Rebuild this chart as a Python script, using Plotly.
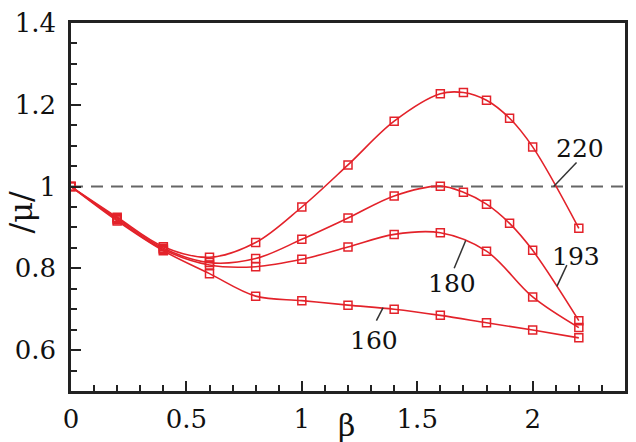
import plotly.graph_objects as go

beta_a = [0, 0.2, 0.4, 0.6, 0.8, 1.0, 1.2, 1.4, 1.6, 1.7, 1.8, 1.9, 2.0, 2.2]
mu_220 = [1.0, 0.925, 0.853, 0.827, 0.863, 0.950, 1.053, 1.160, 1.227, 1.230, 1.211, 1.167, 1.097, 0.898]
mu_193 = [1.0, 0.922, 0.849, 0.814, 0.824, 0.871, 0.923, 0.977, 1.001, 0.986, 0.957, 0.910, 0.844, 0.672]

beta_b = [0, 0.2, 0.4, 0.6, 0.8, 1.0, 1.2, 1.4, 1.6, 1.8, 2.0, 2.2]
mu_180 = [1.0, 0.919, 0.846, 0.808, 0.804, 0.822, 0.852, 0.883, 0.887, 0.842, 0.730, 0.655]
mu_160 = [1.0, 0.916, 0.843, 0.787, 0.732, 0.721, 0.710, 0.700, 0.685, 0.667, 0.649, 0.630]

labels = ["220", "193", "180", "160"]
label_pos = [(2.205, 1.094), (2.186, 0.830), (1.651, 0.762), (1.311, 0.624)]
leader = [((2.091, 1.0), (2.19, 1.059)),
          ((2.105, 0.756), (2.148, 0.808)),
          ((1.710, 0.868), (1.660, 0.800)),
          ((1.352, 0.704), (1.323, 0.672))]

x_ticks = [0, 0.5, 1, 1.5, 2]
x_tick_text = ["0", "0.5", "1", "1.5", "2"]
y_ticks = [0.6, 0.8, 1.0, 1.2, 1.4]
y_tick_text = ["0.6", "0.8", "1", "1.2", "1.4"]

RED = "#e3222a"
FONT = "DejaVu Serif, serif"

fig = go.Figure()

fig.add_shape(type="line", xref="x", yref="y", x0=0, x1=2.4, y0=1.0, y1=1.0,
              line=dict(color="#666666", width=2, dash="12px,8px"), layer="below")

for xs, ys in [(beta_b, mu_160), (beta_b, mu_180), (beta_a, mu_193), (beta_a, mu_220)]:
    fig.add_trace(go.Scatter(
        x=xs, y=ys, mode="lines+markers",
        line=dict(color=RED, width=1.6, shape="spline", smoothing=1.0),
        marker=dict(symbol="square-open", size=8, color=RED, line=dict(width=1.5, color=RED)),
        showlegend=False, hoverinfo="skip"))

for (p0, p1) in leader:
    fig.add_shape(type="line", xref="x", yref="y", x0=p0[0], y0=p0[1], x1=p1[0], y1=p1[1],
                  line=dict(color="#333333", width=1.5))

for t, (lx, ly) in zip(labels, label_pos):
    fig.add_annotation(x=lx, y=ly, xref="x", yref="y", text=t, showarrow=False,
                       font=dict(family=FONT, size=25, color="#111111"),
                       xanchor="center", yanchor="middle")

fig.add_annotation(x=0.497, y=-0.094, xref="paper", yref="paper", text="β", showarrow=False,
                   font=dict(family=FONT, size=30, color="#111111"), xanchor="center", yanchor="middle")
fig.add_annotation(x=-0.092, y=0.485, xref="paper", yref="paper", text="/μ/", showarrow=False,
                   textangle=-90,
                   font=dict(family=FONT, size=32, color="#111111"), xanchor="center", yanchor="middle")

axis_common = dict(showgrid=False, zeroline=False, showline=True, linecolor="#222222", linewidth=2.5,
                   mirror=True, ticks="inside", ticklen=10, tickwidth=2, tickcolor="#222222",
                   tickfont=dict(family=FONT, size=26, color="#111111"))

fig.update_xaxes(range=[0, 2.4], tickvals=x_ticks, ticktext=x_tick_text,
                 minor=dict(dtick=0.1, tick0=0, ticks="inside", ticklen=6, tickwidth=2, tickcolor="#222222"),
                 ticklabelstandoff=3, **axis_common)
fig.update_yaxes(range=[0.5, 1.4], tickvals=y_ticks, ticktext=y_tick_text,
                 minor=dict(dtick=0.05, tick0=0, ticks="inside", ticklen=6, tickwidth=2, tickcolor="#222222"),
                 ticklabelstandoff=7, **axis_common)

fig.update_layout(width=636, height=442, margin=dict(l=71, r=8, t=21, b=47),
                  font=dict(family=FONT),
                  plot_bgcolor="white", paper_bgcolor="white")

fig.write_html("out.html")
